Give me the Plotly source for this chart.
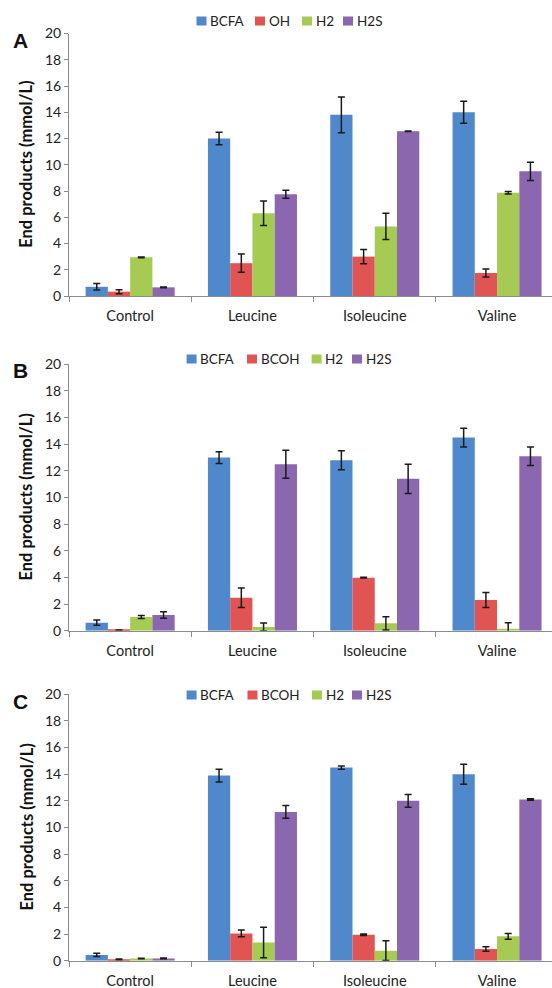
import plotly.graph_objects as go

categories = ["Control", "Leucine", "Isoleucine", "Valine"]
series_names = ["BCFA", "BCOH", "H2", "H2S"]
panel_a_names = ["BCFA", "OH", "H2", "H2S"]
y_ticks = [0, 2, 4, 6, 8, 10, 12, 14, 16, 18, 20]

# Panel A values and errors (BCFA, OH, H2, H2S)
a_values = [
    [0.7, 12.0, 13.8, 14.0],
    [0.33, 2.5, 3.0, 1.75],
    [2.95, 6.3, 5.3, 7.87],
    [0.66, 7.75, 12.56, 9.5],
]
a_errors = [
    [0.25, 0.48, 1.37, 0.84],
    [0.15, 0.7, 0.55, 0.3],
    [0.03, 0.93, 1.0, 0.1],
    [0.03, 0.3, 0.02, 0.7],
]
# Panel B
b_values = [
    [0.6, 13.0, 12.8, 14.5],
    [0.05, 2.48, 3.98, 2.3],
    [1.03, 0.28, 0.55, 0.15],
    [1.18, 12.5, 11.4, 13.1],
]
b_errors = [
    [0.2, 0.44, 0.71, 0.7],
    [0.0, 0.73, 0.03, 0.56],
    [0.12, 0.3, 0.5, 0.44],
    [0.25, 1.05, 1.1, 0.7],
]
# Panel C
c_values = [
    [0.43, 13.9, 14.5, 14.0],
    [0.1, 2.05, 1.95, 0.88],
    [0.17, 1.37, 0.75, 1.83],
    [0.17, 11.17, 12.0, 12.1],
]
c_errors = [
    [0.12, 0.48, 0.12, 0.75],
    [0.02, 0.25, 0.05, 0.17],
    [0.02, 1.14, 0.74, 0.22],
    [0.03, 0.48, 0.48, 0.06],
]

colors = ["#5089CB", "#E05553", "#A5CB52", "#8A67AE"]

W, H = 552, 988
FONT = "Lato, 'Open Sans', sans-serif"

def py(px):
    return 1 - px / H

def pxx(px):
    return px / W

panels = [
    dict(vals=a_values, errs=a_errors, names=panel_a_names, top=33.5, bot=296,
         legend_y=21, legend_x=[196.5, 255, 302, 343], label="A", label_y=41),
    dict(vals=b_values, errs=b_errors, names=series_names, top=364.3, bot=630.7,
         legend_y=359, legend_x=[186.6, 247, 311.6, 352], label="B", label_y=371),
    dict(vals=c_values, errs=c_errors, names=series_names, top=694.3, bot=960.7,
         legend_y=695, legend_x=[186.6, 247.5, 312, 352], label="C", label_y=701),
]

fig = go.Figure()
annotations = []
shapes = []
layout = {}
for p_i, p in enumerate(panels):
    sfx = "" if p_i == 0 else str(p_i + 1)
    for s_i in range(4):
        fig.add_trace(go.Bar(
            x=categories,
            y=p["vals"][s_i],
            name=p["names"][s_i],
            marker=dict(color=colors[s_i], line=dict(width=0)),
            error_y=dict(type="data", array=p["errs"][s_i], visible=True,
                         color="#1a1a1a", thickness=1.5, width=3.5),
            xaxis="x" + sfx,
            yaxis="y" + sfx,
            showlegend=False,
        ))
        # legend entry: coloured square + name
        lx = p["legend_x"][s_i]
        ly = p["legend_y"]
        shapes.append(dict(
            type="rect", xref="paper", yref="paper",
            x0=pxx(lx), x1=pxx(lx + 10), y0=py(ly + 4.5), y1=py(ly - 4.5),
            fillcolor=colors[s_i], line=dict(width=0),
        ))
        annotations.append(dict(
            text=p["names"][s_i], showarrow=False,
            xref="paper", yref="paper", x=pxx(lx + 11.5), y=py(ly),
            xanchor="left", yanchor="middle",
            font=dict(family=FONT, size=13.5, color="#222"),
        ))
    layout["xaxis" + sfx] = dict(
        domain=[69 / W, 1], anchor="y" + sfx,
        range=[-0.5, -0.5 + (W - 69) / 122.3],
        showline=True, linecolor="#8c8c8c", linewidth=1,
        ticks="outside", tickson="boundaries", ticklen=5, tickcolor="#8c8c8c",
        ticklabelstandoff=7,
        showgrid=False, zeroline=False, automargin=False,
        tickfont=dict(family=FONT, size=14.5, color="#222"),
        fixedrange=True,
    )
    layout["yaxis" + sfx] = dict(
        domain=[py(p["bot"]), py(p["top"])], anchor="x" + sfx,
        range=[0, 20], tickvals=y_ticks,
        showline=True, linecolor="#8c8c8c", linewidth=1,
        ticks="outside", ticklen=4, tickcolor="#8c8c8c",
        showgrid=False, zeroline=False, automargin=False,
        tickfont=dict(family=FONT, size=14, color="#222"),
        fixedrange=True,
    )
    annotations.append(dict(
        text="End products (mmol/L)", textangle=-90, showarrow=False,
        xref="paper", yref="paper", x=pxx(26), y=py((p["top"] + p["bot"]) / 2),
        xanchor="center", yanchor="middle",
        font=dict(family=FONT, size=16.5, color="#111", weight="bold"),
    ))
    annotations.append(dict(
        text="<b>" + p["label"] + "</b>", showarrow=False,
        xref="paper", yref="paper", x=pxx(20), y=py(p["label_y"]),
        xanchor="center", yanchor="middle",
        font=dict(family="Liberation Sans, Arial, sans-serif", size=21, color="#111"),
    ))

fig.update_layout(
    width=W, height=H, autosize=False,
    margin=dict(l=0, r=0, t=0, b=0, pad=0, autoexpand=False),
    paper_bgcolor="white", plot_bgcolor="white",
    barmode="group", bargap=0.272, bargroupgap=0,
    showlegend=False,
    annotations=annotations,
    shapes=shapes,
    **layout,
)

post = (
    "var d=document.documentElement, b=document.body;"
    "d.style.margin='0'; d.style.padding='0'; d.style.overflow='hidden';"
    "b.style.margin='0'; b.style.padding='0'; b.style.overflow='hidden';"
)
fig.write_html("out.html", config={"displayModeBar": False}, post_script=post)
